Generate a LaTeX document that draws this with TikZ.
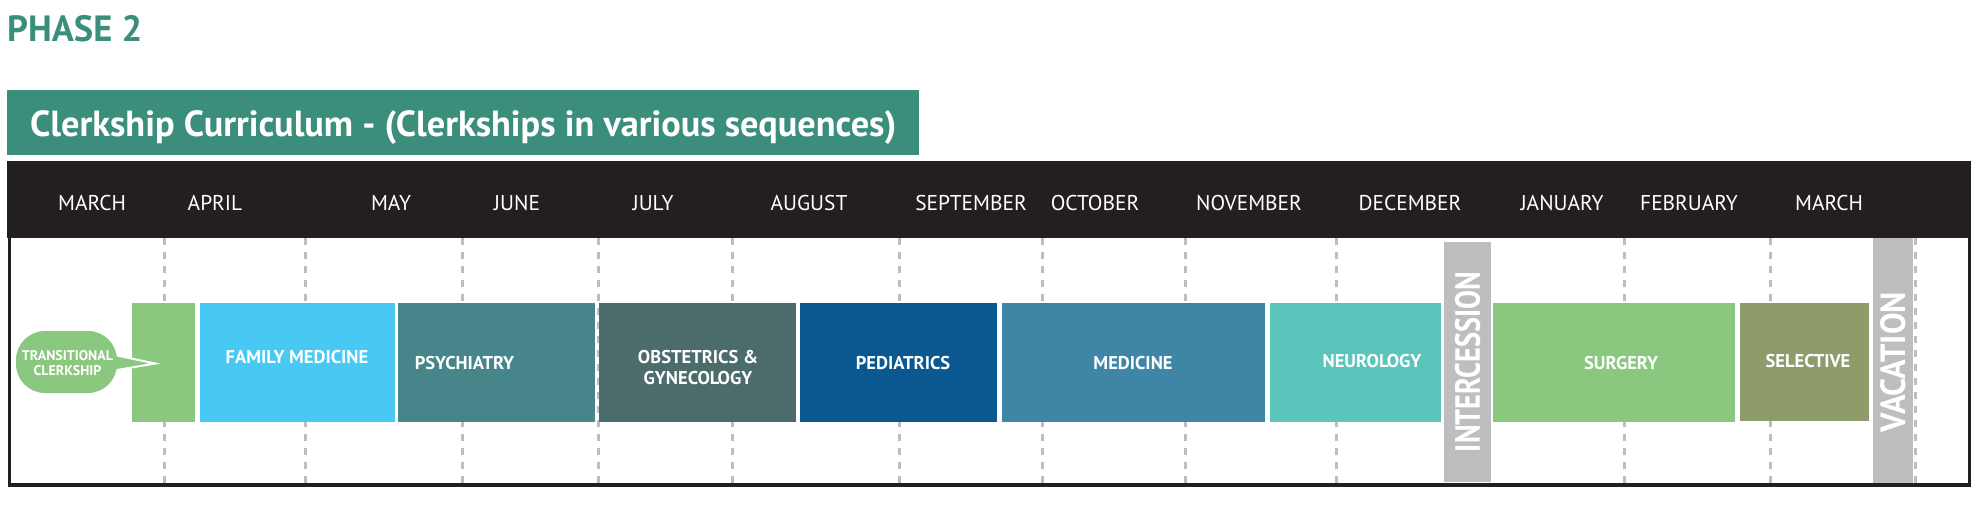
\documentclass[tikz,border=0pt]{standalone}
\usepackage{fontspec}
\setmainfont{PT Sans}
\usepackage{xcolor}
\usepackage{graphicx}
\usetikzlibrary{calc, positioning}
\definecolor{phasegreen}{HTML}{3B8E7B}
\definecolor{headblack}{HTML}{231F20}
\definecolor{transgreen}{HTML}{8AC880}
\definecolor{fammed}{HTML}{47C9F3}
\definecolor{psych}{HTML}{46868A}
\definecolor{obgyn}{HTML}{4C6B6B}
\definecolor{peds}{HTML}{0B5890}
\definecolor{med}{HTML}{3F86A6}
\definecolor{neuro}{HTML}{5BC4BB}
\definecolor{surg}{HTML}{8AC880}
\definecolor{selcol}{HTML}{8E9C6B}
\definecolor{bargray}{HTML}{BCBEC0}
\tikzset{
    blocknode/.style = {draw=none, rectangle, inner sep=0pt, anchor=north west, minimum height=119pt},
    labelnode/.style = {text=white, inner sep=0pt, anchor=base, font=\fontsize{18.5}{21}\selectfont\bfseries},
    monthnode/.style = {text=white, inner sep=0pt, anchor=base, font=\fontsize{21.4}{24}\selectfont},
    barnode/.style = {fill=bargray, rectangle, inner sep=0pt, anchor=north west},
    bartextnode/.style = {text=white, rotate=90, inner sep=0pt, font=\fontsize{36}{40}\selectfont\bfseries},
    divider/.style = {bargray, line width=3pt, dash pattern=on 7pt off 7pt},
    every text node part/.style={align=center}
}
\begin{document}
\begin{tikzpicture}[x=1pt, y=-1pt]
    \useasboundingbox (0,0) rectangle (1978,505);

    % heading and title bar
    \node [name=phase, anchor=base west, inner sep=0pt, text=phasegreen,
        font=\fontsize{36.5}{40}\selectfont\bfseries] at (7,42) {PHASE 2};
    \node [name=titlebar, fill=phasegreen, rectangle, inner sep=0pt, anchor=north west,
        minimum width=912pt, minimum height=65pt] at (7,90) {};
    \node [name=title, anchor=base west, inner sep=0pt, text=white,
        font=\fontsize{36.3}{40}\selectfont\bfseries] at (30,137)
        {Clerkship Curriculum - (Clerkships in various sequences)};

    % month dividers
    \draw [divider] (164,238) -- (164,483);
    \draw [divider] (305,238) -- (305,483);
    \draw [divider] (462,238) -- (462,483);
    \draw [divider] (598,238) -- (598,483);
    \draw [divider] (732,238) -- (732,483);
    \draw [divider] (899,238) -- (899,483);
    \draw [divider] (1042,238) -- (1042,483);
    \draw [divider] (1185,238) -- (1185,483);
    \draw [divider] (1336,238) -- (1336,483);
    \draw [divider] (1624,238) -- (1624,483);
    \draw [divider] (1770,238) -- (1770,483);
    \draw [divider] (1915,238) -- (1915,483);

    % frame and month header
    \draw [headblack, line width=3.5pt] (9.5,162.5) rectangle (1969.5,485);
    \fill [headblack] (7,161) rectangle (1971,238);

    \node [name=mar1, monthnode] at (92,211) {MARCH};
    \node [name=apr, monthnode] at (215,211) {APRIL};
    \node [name=may, monthnode] at (391,211) {MAY};
    \node [name=jun, monthnode] at (517,211) {JUNE};
    \node [name=jul, monthnode] at (653,211) {JULY};
    \node [name=aug, monthnode] at (809,211) {AUGUST};
    \node [name=sep, monthnode] at (971,211) {SEPTEMBER};
    \node [name=oct, monthnode] at (1095,211) {OCTOBER};
    \node [name=nov, monthnode] at (1249,211) {NOVEMBER};
    \node [name=dec, monthnode] at (1410,211) {DECEMBER};
    \node [name=jan, monthnode] at (1562,211) {JANUARY};
    \node [name=feb, monthnode] at (1689,211) {FEBRUARY};
    \node [name=mar2, monthnode] at (1829,211) {MARCH};

    % clerkship blocks
    \node [name=trans, blocknode, fill=transgreen, minimum width=63pt] at (132,303) {};
    \node [name=fm, blocknode, fill=fammed, minimum width=195pt] at (200,303) {};
    \node [name=psy, blocknode, fill=psych, minimum width=197pt] at (398,303) {};
    \node [name=ob, blocknode, fill=obgyn, minimum width=197pt] at (599,303) {};
    \node [name=ped, blocknode, fill=peds, minimum width=197pt] at (800,303) {};
    \node [name=med, blocknode, fill=med, minimum width=263pt] at (1002,303) {};
    \node [name=neu, blocknode, fill=neuro, minimum width=171pt] at (1270,303) {};
    \node [name=sur, blocknode, fill=surg, minimum width=242pt] at (1493,303) {};
    \node [name=sel, blocknode, fill=selcol, minimum width=129pt, minimum height=118pt] at (1740,303) {};

    \node [name=fmtext, labelnode] at (297,363.5) {FAMILY MEDICINE};
    \node [name=psytext, labelnode] at (464.5,369.5) {PSYCHIATRY};
    \node [name=obtext1, labelnode] at (698,363.5) {OBSTETRICS \&};
    \node [name=obtext2, labelnode] at (698,384.5) {GYNECOLOGY};
    \node [name=pedtext, labelnode] at (903,369.5) {PEDIATRICS};
    \node [name=medtext, labelnode] at (1133,369.5) {MEDICINE};
    \node [name=neutext, labelnode] at (1372,367.5) {NEUROLOGY};
    \node [name=surtext, labelnode] at (1621,369.5) {SURGERY};
    \node [name=seltext, labelnode] at (1808,367) {SELECTIVE};

    % breaks
    \node [name=inter, barnode, minimum width=47pt, minimum height=240pt] at (1444,242) {};
    \node [name=intertext, bartextnode] at (1467.5,362)
        {\resizebox{180pt}{25pt}{INTERCESSION}};
    \node [name=vac, barnode, minimum width=40pt, minimum height=245pt] at (1873,238) {};
    \node [name=vactext, bartextnode] at (1893.5,362)
        {\resizebox{140pt}{25pt}{VACATION}};

    % speech bubble
    \coordinate (tip) at (155,363.5);
    \fill [transgreen, draw=white, line width=2pt, line join=miter]
        (100,352) -- (tip) -- (100,373) -- cycle;
    \node [name=bubble, fill=transgreen, rectangle, rounded corners=29pt, inner sep=0pt,
        minimum width=101pt, minimum height=62pt] at (66.5,362) {};
    \node [name=bubtext1, labelnode, font=\fontsize{14}{16}\selectfont\bfseries] at (67.5,360) {TRANSITIONAL};
    \node [name=bubtext2, labelnode, font=\fontsize{14}{16}\selectfont\bfseries] at (67.5,375) {CLERKSHIP};
\end{tikzpicture}
\end{document}
